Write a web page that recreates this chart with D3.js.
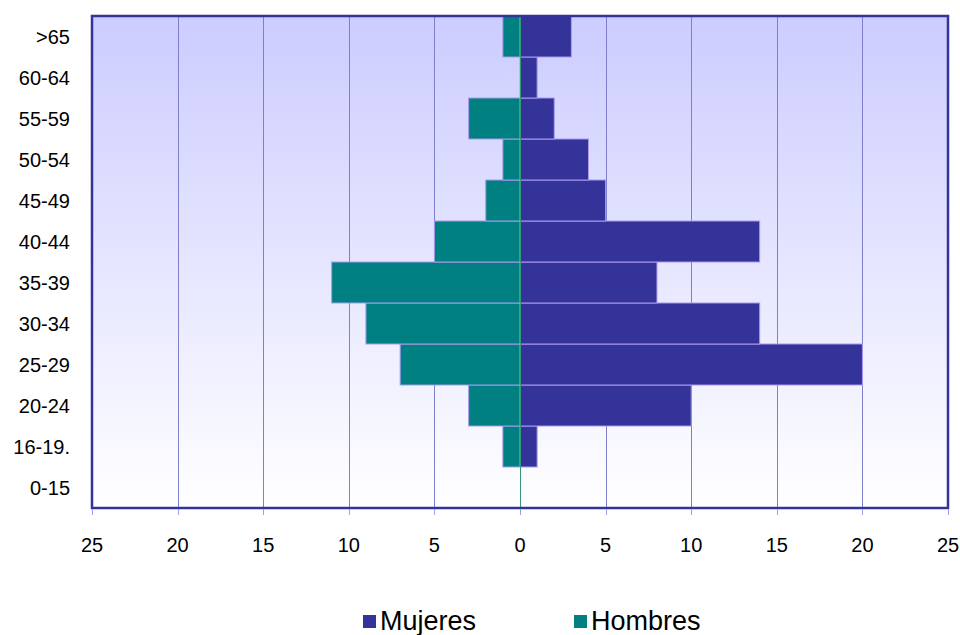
<!DOCTYPE html>
<html lang="en">
<head>
<meta charset="utf-8">
<title>Pirámide</title>
<style>
  body { margin: 0; background: #fff; }
  text { font-family: "Liberation Sans", Arial, sans-serif; fill: #000; }
</style>
</head>
<body>
<svg id="chart" width="960" height="635"></svg>
<script src="https://d3js.org/d3.v7.min.js"></script>
<script>
// datos
var grupos = ["0-15", "16-19.", "20-24", "25-29", "30-34", "35-39", "40-44", "45-49", "50-54", "55-59", "60-64", ">65"];
var mujeres = [0, 1, 10, 20, 14, 8, 14, 5, 4, 2, 1, 3];
var hombres = [0, 1, 3, 7, 9, 11, 5, 2, 1, 3, 0, 1];
var ticks = [-25, -20, -15, -10, -5, 0, 5, 10, 15, 20, 25];

var svg = d3.select("#chart");
var pl = 92, pr = 948, pt = 16, pb = 508;

var x = d3.scaleLinear().domain([-25, 25]).range([pl, pr]);
var y = d3.scaleBand().domain(grupos.slice().reverse()).range([pt, pb]).padding(0);

// fondo degradado
var defs = svg.append("defs");
var grad = defs.append("linearGradient").attr("id", "bg")
    .attr("x1", 0).attr("y1", 0).attr("x2", 0).attr("y2", 1);
grad.append("stop").attr("offset", "0%").attr("stop-color", "#ccccff");
grad.append("stop").attr("offset", "100%").attr("stop-color", "#ffffff");

svg.append("rect")
    .attr("x", pl).attr("y", pt)
    .attr("width", pr - pl).attr("height", pb - pt)
    .attr("fill", "url(#bg)");

// lineas de cuadricula
svg.append("g")
  .selectAll("line")
  .data(ticks.filter(function(d) { return d !== 0 && Math.abs(d) !== 25; }))
  .enter().append("line")
    .attr("x1", function(d) { return Math.round(x(d)) + 0.5; })
    .attr("x2", function(d) { return Math.round(x(d)) + 0.5; })
    .attr("y1", pt).attr("y2", pb)
    .attr("stroke", "#7f7fcc").attr("stroke-width", 1);

// barras
var rows = grupos.map(function(g, i) { return { g: g, m: mujeres[i], h: hombres[i] }; });

svg.append("g")
  .selectAll("rect")
  .data(rows.filter(function(d) { return d.m > 0; }))
  .enter().append("rect")
    .attr("x", x(0))
    .attr("y", function(d) { return y(d.g); })
    .attr("width", function(d) { return x(d.m) - x(0); })
    .attr("height", y.bandwidth())
    .attr("fill", "#333399")
    .attr("stroke", "#a999f0").attr("stroke-width", 1);

svg.append("g")
  .selectAll("rect")
  .data(rows.filter(function(d) { return d.h > 0; }))
  .enter().append("rect")
    .attr("x", function(d) { return x(-d.h); })
    .attr("y", function(d) { return y(d.g); })
    .attr("width", function(d) { return x(0) - x(-d.h); })
    .attr("height", y.bandwidth())
    .attr("fill", "#008080")
    .attr("stroke", "#a999f0").attr("stroke-width", 1);

// linea del cero
svg.append("line")
    .attr("x1", Math.round(x(0)) + 0.5).attr("x2", Math.round(x(0)) + 0.5)
    .attr("y1", pt).attr("y2", pb)
    .attr("stroke", "#339977").attr("stroke-width", 1);

// borde
svg.append("rect")
    .attr("x", pl).attr("y", pt)
    .attr("width", pr - pl).attr("height", pb - pt)
    .attr("fill", "none")
    .attr("stroke", "#333399").attr("stroke-width", 2.5);

// eje x
var xAxis = svg.append("g").attr("transform", "translate(0," + (pb + 1) + ")");
xAxis.selectAll("line")
  .data(ticks)
  .enter().append("line")
    .attr("x1", function(d) { return Math.round(x(d)) + 0.5; })
    .attr("x2", function(d) { return Math.round(x(d)) + 0.5; })
    .attr("y1", 0).attr("y2", 6)
    .attr("stroke", "#9f9fdd");
xAxis.selectAll("text")
  .data(ticks)
  .enter().append("text")
    .attr("x", function(d) { return x(d); })
    .attr("y", 43)
    .attr("text-anchor", "middle")
    .style("font-size", "20px")
    .text(function(d) { return Math.abs(d); });

// eje y
svg.append("g")
  .selectAll("text")
  .data(grupos)
  .enter().append("text")
    .attr("x", 70)
    .attr("y", function(d) { return y(d) + y.bandwidth() / 2; })
    .attr("dy", "0.35em")
    .attr("text-anchor", "end")
    .style("font-size", "20px")
    .text(function(d) { return d; });

// leyenda
var legend = [{ name: "Mujeres", color: "#333399", x: 363 }, { name: "Hombres", color: "#008080", x: 574 }];
var lg = svg.append("g").selectAll("g").data(legend).enter().append("g");
lg.append("rect")
    .attr("x", function(d) { return d.x; })
    .attr("y", 615)
    .attr("width", 13).attr("height", 13)
    .attr("fill", function(d) { return d.color; });
lg.append("text")
    .attr("x", function(d) { return d.x + 17; })
    .attr("y", 630)
    .style("font-size", "27px")
    .text(function(d) { return d.name; });
</script>
</body>
</html>
